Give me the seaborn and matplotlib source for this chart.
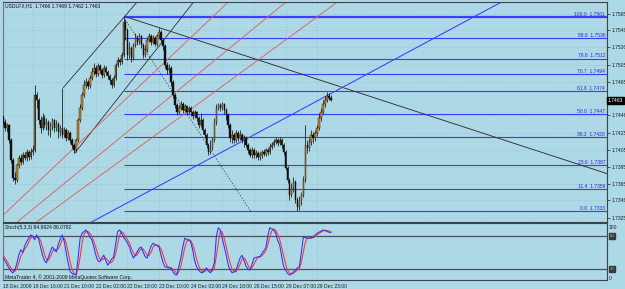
import numpy as np
import pandas as pd
import matplotlib
matplotlib.use("Agg")
import matplotlib.pyplot as plt
import matplotlib.transforms as mtrans
import seaborn as sns

# ---------------- data ----------------
symbol_title = "USDLFX,H1  1.7466 1.7469 1.7462 1.7463"
stoch_title = "Stoch(5,3,3) 94.9624 86.0782"
copyright_text = "MetaTrader 4, \u00a9 2001-2009 MetaQuotes Software Corp."

first_open = 1.7443
close = [1.7438, 1.7431, 1.7434, 1.7417, 1.7393, 1.7372, 1.7370, 1.7387, 1.7395, 1.7391,
         1.7399, 1.7395, 1.7402, 1.7397, 1.7402, 1.7405, 1.7469, 1.7463, 1.7440, 1.7431,
         1.7442, 1.7434, 1.7438, 1.7428, 1.7433, 1.7440, 1.7431, 1.7435, 1.7426, 1.7431,
         1.7422, 1.7428, 1.7419, 1.7425, 1.7417, 1.7411, 1.7405, 1.7417, 1.7440, 1.7454,
         1.7469, 1.7481, 1.7485, 1.7480, 1.7489, 1.7496, 1.7501, 1.7494, 1.7503, 1.7499,
         1.7493, 1.7501, 1.7496, 1.7492, 1.7487, 1.7481, 1.7489, 1.7505, 1.7511, 1.7508,
         1.7516, 1.7555, 1.7546, 1.7516, 1.7525, 1.7513, 1.7528, 1.7536, 1.7532, 1.7539,
         1.7528, 1.7516, 1.7522, 1.7534, 1.7539, 1.7532, 1.7536, 1.7529, 1.7539, 1.7543,
         1.7534, 1.7527, 1.7505, 1.7499, 1.7501, 1.7485, 1.7469, 1.7458, 1.7449, 1.7454,
         1.7459, 1.7452, 1.7456, 1.7449, 1.7454, 1.7449, 1.7445, 1.7449, 1.7442, 1.7434,
         1.7440, 1.7428, 1.7422, 1.7411, 1.7402, 1.7407, 1.7417, 1.7438, 1.7454, 1.7458,
         1.7454, 1.7459, 1.7452, 1.7446, 1.7434, 1.7419, 1.7422, 1.7417, 1.7425, 1.7419,
         1.7422, 1.7417, 1.7419, 1.7411, 1.7405, 1.7399, 1.7405, 1.7399, 1.7401, 1.7397,
         1.7399, 1.7402, 1.7400, 1.7405, 1.7402, 1.7408, 1.7411, 1.7414, 1.7417, 1.7413,
         1.7417, 1.7411, 1.7402, 1.7384, 1.7370, 1.7352, 1.7360, 1.7367, 1.7346, 1.7338,
         1.7346, 1.7352, 1.7370, 1.7411, 1.7407, 1.7414, 1.7422, 1.7419, 1.7425, 1.7431,
         1.7442, 1.7449, 1.7459, 1.7464, 1.7468, 1.7466, 1.7463]
high = [1.7446, 1.7441, 1.7436, 1.7435, 1.7419, 1.7395, 1.7379, 1.7389, 1.7399, 1.7400,
        1.7402, 1.7402, 1.7406, 1.7405, 1.7407, 1.7411, 1.7481, 1.7473, 1.7466, 1.7445,
        1.7448, 1.7446, 1.7442, 1.7440, 1.7438, 1.7442, 1.7441, 1.7440, 1.7438, 1.7434,
        1.7478, 1.7432, 1.7431, 1.7428, 1.7427, 1.7419, 1.7413, 1.7419, 1.7442, 1.7459,
        1.7473, 1.7487, 1.7489, 1.7487, 1.7493, 1.7501, 1.7507, 1.7505, 1.7507, 1.7506,
        1.7501, 1.7505, 1.7503, 1.7499, 1.7494, 1.7489, 1.7493, 1.7507, 1.7514, 1.7513,
        1.7520, 1.7561, 1.7558, 1.7548, 1.7532, 1.7527, 1.7530, 1.7542, 1.7540, 1.7542,
        1.7540, 1.7530, 1.7528, 1.7538, 1.7542, 1.7541, 1.7540, 1.7539, 1.7541, 1.7548,
        1.7546, 1.7536, 1.7529, 1.7508, 1.7506, 1.7503, 1.7487, 1.7472, 1.7460, 1.7458,
        1.7462, 1.7461, 1.7459, 1.7458, 1.7456, 1.7456, 1.7452, 1.7452, 1.7451, 1.7445,
        1.7448, 1.7442, 1.7431, 1.7425, 1.7413, 1.7417, 1.7420, 1.7442, 1.7459, 1.7460,
        1.7460, 1.7461, 1.7460, 1.7454, 1.7448, 1.7436, 1.7428, 1.7425, 1.7428, 1.7427,
        1.7428, 1.7425, 1.7422, 1.7421, 1.7413, 1.7407, 1.7408, 1.7407, 1.7405, 1.7404,
        1.7402, 1.7405, 1.7406, 1.7407, 1.7407, 1.7413, 1.7414, 1.7418, 1.7420, 1.7419,
        1.7420, 1.7419, 1.7413, 1.7405, 1.7386, 1.7372, 1.7366, 1.7373, 1.7370, 1.7350,
        1.7351, 1.7355, 1.7374, 1.7434, 1.7417, 1.7419, 1.7428, 1.7426, 1.7428, 1.7434,
        1.7448, 1.7454, 1.7463, 1.7468, 1.7473, 1.7472, 1.7469]
low = [1.7434, 1.7427, 1.7426, 1.7413, 1.7389, 1.7368, 1.7365, 1.7367, 1.7384, 1.7387,
       1.7388, 1.7393, 1.7392, 1.7393, 1.7394, 1.7399, 1.7402, 1.7454, 1.7435, 1.7425,
       1.7428, 1.7431, 1.7428, 1.7422, 1.7420, 1.7428, 1.7426, 1.7427, 1.7419, 1.7421,
       1.7419, 1.7420, 1.7415, 1.7417, 1.7413, 1.7407, 1.7401, 1.7402, 1.7414, 1.7438,
       1.7452, 1.7467, 1.7478, 1.7476, 1.7478, 1.7487, 1.7493, 1.7491, 1.7492, 1.7495,
       1.7489, 1.7491, 1.7493, 1.7488, 1.7482, 1.7478, 1.7479, 1.7487, 1.7502, 1.7505,
       1.7506, 1.7514, 1.7534, 1.7511, 1.7513, 1.7508, 1.7511, 1.7526, 1.7528, 1.7529,
       1.7525, 1.7513, 1.7514, 1.7520, 1.7532, 1.7528, 1.7529, 1.7527, 1.7527, 1.7536,
       1.7530, 1.7522, 1.7501, 1.7494, 1.7495, 1.7480, 1.7466, 1.7454, 1.7446, 1.7447,
       1.7452, 1.7448, 1.7449, 1.7446, 1.7447, 1.7445, 1.7441, 1.7442, 1.7439, 1.7431,
       1.7432, 1.7424, 1.7419, 1.7407, 1.7399, 1.7400, 1.7405, 1.7414, 1.7434, 1.7452,
       1.7451, 1.7452, 1.7447, 1.7440, 1.7431, 1.7414, 1.7413, 1.7413, 1.7414, 1.7415,
       1.7417, 1.7413, 1.7408, 1.7408, 1.7401, 1.7397, 1.7395, 1.7395, 1.7395, 1.7393,
       1.7393, 1.7395, 1.7398, 1.7398, 1.7399, 1.7400, 1.7406, 1.7408, 1.7412, 1.7409,
       1.7411, 1.7407, 1.7399, 1.7381, 1.7366, 1.7346, 1.7350, 1.7355, 1.7342, 1.7333,
       1.7334, 1.7340, 1.7350, 1.7367, 1.7401, 1.7404, 1.7411, 1.7413, 1.7415, 1.7421,
       1.7428, 1.7439, 1.7447, 1.7455, 1.7461, 1.7463, 1.7462]

stoch_k = [40, 35, 28, 22, 16, 13, 18, 30, 45, 55, 50, 62, 70, 76, 82, 80, 73, 82, 75, 60,
           45, 35, 31, 42, 52, 60, 55, 51, 65, 75, 82, 70, 50, 30, 15, 12, 10, 9, 40, 75,
           85, 88, 91, 85, 78, 73, 60, 45, 35, 33, 40, 45, 35, 27, 32, 38, 42, 65, 88, 91,
           85, 78, 73, 67, 60, 48, 40, 45, 52, 58, 60, 50, 42, 40, 52, 62, 67, 64, 62, 60,
           45, 32, 24, 23, 22, 22, 15, 10, 9, 25, 40, 60, 76, 74, 72, 69, 55, 35, 24, 18,
           14, 13, 18, 22, 16, 13, 20, 33, 80, 95, 91, 75, 60, 45, 27, 18, 13, 15, 18, 30,
           40, 45, 36, 25, 20, 18, 28, 40, 41, 42, 42, 48, 53, 58, 80, 95, 93, 91, 85, 72,
           64, 45, 25, 18, 12, 9, 11, 15, 18, 22, 24, 50, 78, 77, 76, 76, 77, 78, 82, 85,
           87, 89, 91, 90, 88, 87, 86]
stoch_d = [45, 40, 34, 28, 22, 17, 16, 20, 31, 43, 50, 56, 61, 69, 76, 79, 78, 78, 77, 72,
           60, 47, 37, 36, 42, 51, 56, 55, 57, 64, 74, 76, 67, 50, 32, 19, 12, 10, 20, 41,
           67, 83, 88, 88, 85, 79, 70, 59, 47, 38, 36, 39, 40, 36, 31, 32, 37, 48, 65, 81,
           88, 85, 79, 73, 67, 58, 49, 44, 46, 52, 57, 56, 51, 44, 45, 51, 60, 64, 64, 62,
           56, 46, 34, 26, 23, 22, 20, 16, 11, 15, 25, 42, 59, 70, 74, 72, 65, 53, 38, 26,
           19, 15, 15, 18, 19, 17, 16, 22, 44, 69, 89, 87, 75, 60, 44, 30, 19, 15, 15, 21,
           29, 38, 40, 35, 27, 21, 22, 29, 36, 41, 42, 44, 48, 53, 64, 78, 89, 93, 90, 83,
           74, 60, 45, 29, 18, 13, 11, 12, 15, 18, 21, 32, 51, 68, 77, 76, 76, 77, 79, 82,
           85, 87, 89, 90, 90, 89, 88]
stoch_levels = [80, 20]

time_labels = ["18 Dec 2009", "18 Dec 16:00", "21 Dec 10:00", "22 Dec 02:00", "22 Dec 18:00",
               "23 Dec 10:00", "24 Dec 02:00", "24 Dec 18:00", "28 Dec 15:00", "29 Dec 07:00",
               "29 Dec 23:00"]
time_label_bars = [0, 15, 31, 47, 63, 79, 95, 111, 127, 143, 159]
price_ticks = [1.7565, 1.7546, 1.7526, 1.7505, 1.7485, 1.7446, 1.7425, 1.7405, 1.7385,
               1.7365, 1.7346, 1.7325]
last_price = 1.7463

fib_levels = [0.0, 11.4, 23.6, 38.2, 50.0, 61.8, 70.7, 78.6, 88.6, 100.0]
fib_prices = [1.7333, 1.7359, 1.7387, 1.7420, 1.7447, 1.7474, 1.7494, 1.7512, 1.7536, 1.7561]
fib_anchor_bars = [61, 125.3]
fib_anchor_prices = [1.7561, 1.7333]

trend_black_bars = [62.5, 305.7]
trend_black_prices = [1.7561, 1.7377]
trend_blue_bars = [159.5, 251.4]
trend_blue_prices = [1.7463, 1.75775]
channel_bars = [[30.5, 68.0], [36.3, 96.6]]
channel_prices = [[1.7478, 1.7579], [1.7401, 1.7579]]
fan_bars = [[-1.4, 114.2], [8.7, 143.4], [18.7, 169.5]]
fan_prices = [[1.7325, 1.7579], [1.7323, 1.7579], [1.7323, 1.7579]]

# ---------------- style ----------------
BG = "#add8e6"
GRID = "#8eb8c6"
DARK = "#3c4448"
FIB = "#3c3cff"
FS = 3.6

sns.set_style("white", rc={"axes.facecolor": BG, "figure.facecolor": BG})
plt.rcParams["font.family"] = ["Liberation Sans", "DejaVu Sans"]

W, H = 625, 289


def rect(x0, y0, x1, y1):
    return [x0 / W, 1 - y1 / H, (x1 - x0) / W, (y1 - y0) / H]


fig = plt.figure(figsize=(W / 100, H / 100), dpi=100, facecolor=BG)
ax = fig.add_axes(rect(3, 2, 607, 222))
axs = fig.add_axes(rect(3, 223, 607, 280))

XMIN, XMAX = 0.15, 305.7
for a in (ax, axs):
    a.set_facecolor(BG)
    a.set_xlim(XMIN, XMAX)
    for s in a.spines.values():
        s.set_color(DARK)
        s.set_linewidth(0.8)
    a.spines["left"].set_color("#6a7a80")

ax.set_ylim(1.732015, 1.757865)

# grid
ax.set_xticks(time_label_bars)
ax.grid(True, color=GRID, lw=0.5, ls=(0, (1, 2)))
ax.tick_params(axis="x", bottom=False, labelbottom=False)

# candles
bars = np.arange(len(close))
opens = [first_open] + close[:-1]
df = pd.DataFrame(dict(bar=bars, open=opens, high=high, low=low, close=close))
up = df["close"] >= df["open"]
ax.vlines(df["bar"], df["low"], df["high"], color="#141414", lw=0.55, zorder=3)
ax.bar(df["bar"][up], (df["close"] - df["open"])[up], bottom=df["open"][up], width=0.75,
       color="#c8871f", edgecolor="#141414", lw=0.3, zorder=4)
ax.bar(df["bar"][~up], (df["close"] - df["open"])[~up], bottom=df["open"][~up], width=0.75,
       color="#101010", edgecolor="#101010", lw=0.3, zorder=4)

# fibonacci
for lvl, p in zip(fib_levels, fib_prices):
    ax.hlines(p, fib_anchor_bars[0], XMAX, color=FIB, lw=1.6 if lvl == 100.0 else 0.8, zorder=2)
tr = mtrans.blended_transform_factory(ax.transAxes, ax.transData)
for lvl, p in zip(fib_levels, fib_prices):
    ax.text(1 - 2 / 604, p + 0.00005, f"{lvl:.1f}  {p:.4f}", transform=tr, ha="right",
            va="bottom", fontsize=FS, color="#2828e0", zorder=5)
ax.plot(fib_anchor_bars, fib_anchor_prices, color="#404040", lw=0.6, ls=(0, (1.5, 2)), zorder=2)

# trend lines
ax.plot(trend_black_bars, trend_black_prices, color="#303030", lw=0.65, zorder=2)
ax.axline((trend_blue_bars[0], trend_blue_prices[0]), (trend_blue_bars[1], trend_blue_prices[1]),
          color=FIB, lw=0.75, zorder=2)
for bx, py in zip(channel_bars, channel_prices):
    ax.plot(bx, py, color="#303030", lw=0.6, zorder=2)
for bx, py in zip(fan_bars, fan_prices):
    ax.axline((bx[0], py[0]), (bx[1], py[1]), color="#e05a5a", lw=0.6, zorder=2)

# right price axis
ax.yaxis.tick_right()
ax.set_yticks(price_ticks)
ax.set_yticklabels([f"{p:.4f}" for p in price_ticks])
ax.tick_params(axis="y", length=2, width=0.5, pad=1, labelsize=FS, colors="#202020")
ax.text(1.0015, last_price, f"{last_price:.4f}", transform=tr, ha="left", va="center",
        fontsize=FS, color="white", zorder=6,
        bbox=dict(boxstyle="square,pad=0.25", fc="black", ec="black"))

# stochastic
axs.set_ylim(0, 103.6)
sns.lineplot(x=bars, y=stoch_d, ax=axs, color="#ff3030", lw=0.75, zorder=3)
sns.lineplot(x=bars, y=stoch_k, ax=axs, color="#3030ff", lw=0.75, zorder=4)
for lv in stoch_levels:
    axs.axhline(lv, color="#4a5458", lw=0.9, zorder=2)
axs.set_xticks(time_label_bars)
axs.set_xticklabels(time_labels)
axs.grid(True, axis="x", color=GRID, lw=0.5, ls=(0, (1, 2)))
axs.tick_params(axis="x", length=2, width=0.5, pad=0.8, labelsize=FS, colors="#202020")
for lab in axs.get_xticklabels():
    lab.set_ha("left")
axs.set_yticks([])
axs.set_xlabel("")
axs.set_ylabel("")
trs = mtrans.blended_transform_factory(axs.transAxes, axs.transData)
axs.text(1.003, 96, "100", transform=trs, ha="left", va="center", fontsize=FS, color="#202020")
axs.text(1.003, 2, "0", transform=trs, ha="left", va="center", fontsize=FS, color="#202020")
for lv in stoch_levels:
    axs.text(1.004, lv, str(lv), transform=trs, ha="left", va="center", fontsize=FS - 0.4,
             color="#b0b0b0", bbox=dict(boxstyle="square,pad=0.2", fc="#383838", ec="#383838"))

# titles
fig.text(5 / W, 1 - 6 / H, symbol_title, ha="left", va="center", fontsize=FS, color="#101010")
fig.text(5 / W, 1 - 228 / H, stoch_title, ha="left", va="center", fontsize=FS, color="#101010")
fig.text(5 / W, 1 - 277 / H, copyright_text, ha="left", va="center", fontsize=FS, color="#101010")

fig.savefig("out.png", dpi=100, facecolor=BG)
